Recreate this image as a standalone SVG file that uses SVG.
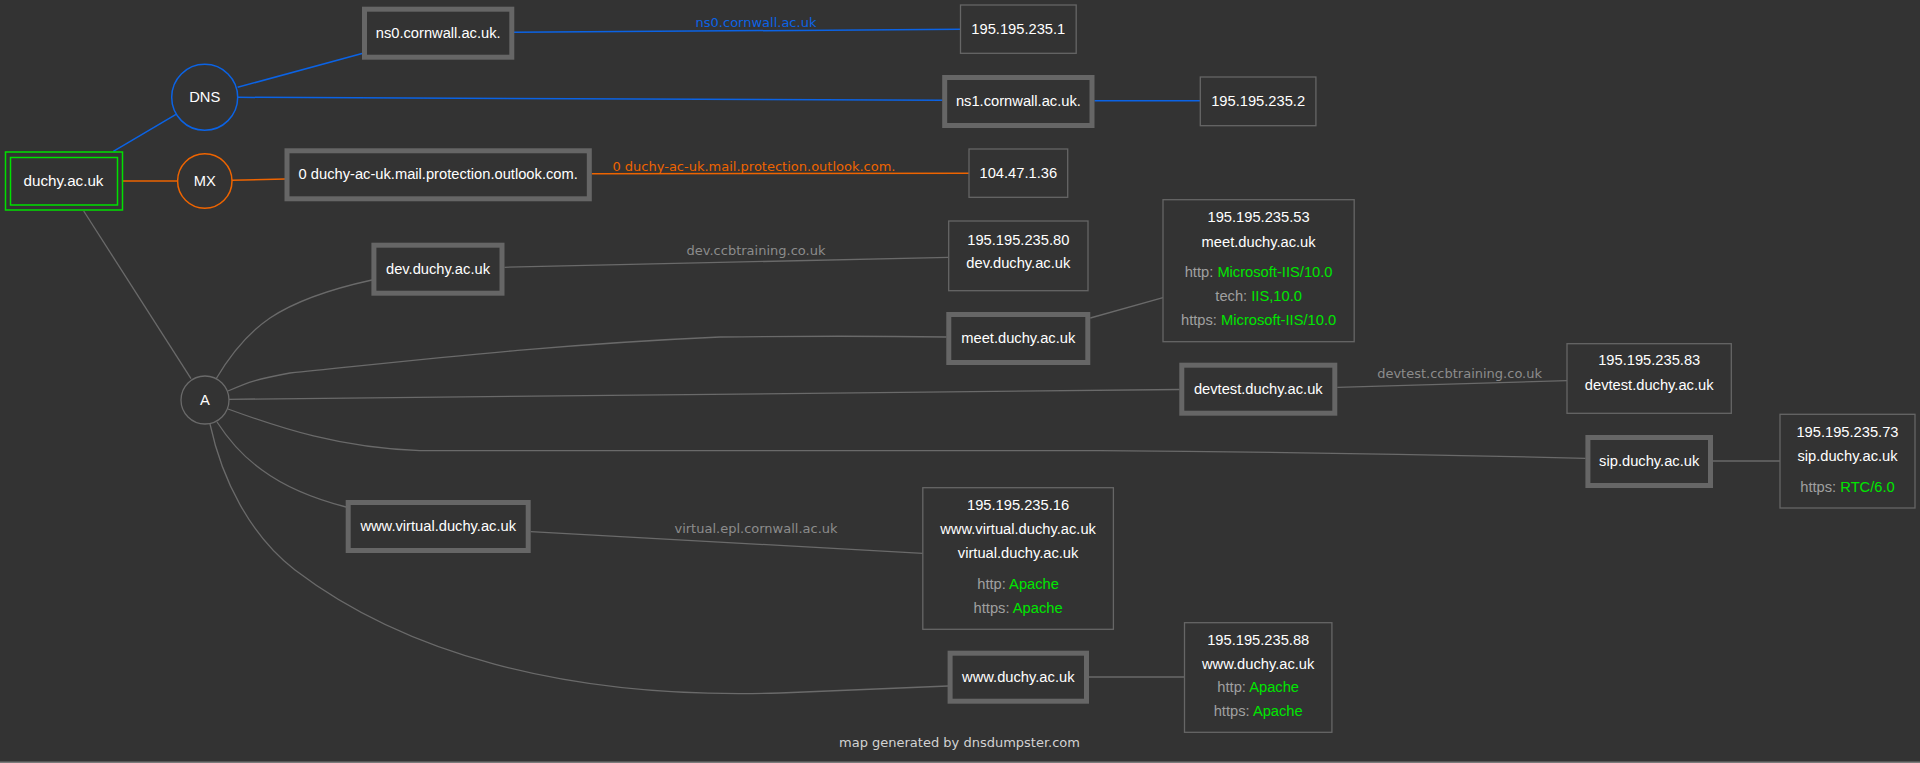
<svg xmlns="http://www.w3.org/2000/svg" width="1920" height="763" viewBox="0 0 1920 763">
<style>
.bg{fill:#333333}
.t{font-family:"Liberation Sans",Arial,sans-serif;font-size:14.7px;fill:#ffffff;text-anchor:middle}
.k{fill:#a0a0a0}
.g{fill:#00e600}
.el{font-family:"DejaVu Sans",Verdana,sans-serif;font-size:13px;text-anchor:middle}
.thick{fill:#333333;stroke:#666666;stroke-width:5}
.thin{fill:#333333;stroke:#666666;stroke-width:1.3}
.e{fill:none;stroke:#6a6a6a;stroke-width:1.3}
.eb{fill:none;stroke:#0b63e5;stroke-width:1.5}
.eo{fill:none;stroke:#ee6400;stroke-width:1.5}
</style>
<rect class="bg" x="0" y="0" width="1920" height="763"/>
<rect x="0" y="761.5" width="1920" height="1.5" fill="#7a7a7a"/>

<g id="connectors">
  <path class="eb" d="M113.3,151.3 L176,114.3"/>
  <path class="eo" d="M123,181 L177.7,181"/>
  <path class="e" d="M83.7,211 L191,378.7"/>
  <path class="eb" d="M237.6,87.3 L363,53.3"/>
  <path class="eb" d="M237.7,97.3 L942.5,100.3"/>
  <path class="eb" d="M514,32.3 L960.5,29.3"/>
  <text class="el" x="756" y="26.7" fill="#0b63e5">ns0.cornwall.ac.uk</text>
  <path class="eb" d="M1094.5,100.7 L1200.3,100.7"/>
  <path class="eo" d="M231.8,180.3 L285,179"/>
  <path class="eo" d="M591.8,173.7 L969,173.3"/>
  <text class="el" x="754" y="170.7" fill="#ee6400">0 duchy-ac-uk.mail.protection.outlook.com.</text>
  <path class="e" d="M216,379 C232,352 248,333 270,318 C300,298 340,287 372,280"/>
  <path class="e" d="M504.5,267.3 L948.7,257.3"/>
  <text class="el" x="756" y="255.3" fill="#8c8c8c">dev.ccbtraining.co.uk</text>
  <path class="e" d="M228,391 C250,381 258,379 290,373 C400,362 540,345 720,337 C800,336 880,336 946.5,337"/>
  <path class="e" d="M1090.3,318 L1163,297.7"/>
  <path class="e" d="M228.6,399.3 L1179.5,389.5"/>
  <path class="e" d="M1337.3,387.3 L1567,380.7"/>
  <text class="el" x="1459.6" y="378.3" fill="#8c8c8c">devtest.ccbtraining.co.uk</text>
  <path class="e" d="M228,409 C280,428 340,448 420,450.7 L1100,450.7 C1300,452 1450,455 1585.5,458.3"/>
  <path class="e" d="M1713,461 L1780,461"/>
  <path class="e" d="M217,422 C230,442 245,458 262,470 C285,487 315,499 346,507"/>
  <path class="e" d="M530.7,531.7 L922.8,553.3"/>
  <text class="el" x="756" y="532.7" fill="#8c8c8c">virtual.epl.cornwall.ac.uk</text>
  <path class="e" d="M210,424 C222,480 250,535 295,570 C400,650 560,700 780,693 C850,690 900,688 948,686"/>
  <path class="e" d="M1089,677 L1184.5,677"/>
</g>

<g id="node-duchy">
  <rect x="5.5" y="152" width="117" height="58" fill="none" stroke="#00e000" stroke-width="1.5"/>
  <rect x="10.5" y="157.5" width="107" height="47.5" fill="none" stroke="#00e000" stroke-width="1.5"/>
  <text class="t" x="63.5" y="185.5" style="font-size:15.2px">duchy.ac.uk</text>
</g>
<g id="node-dns">
  <circle cx="204.7" cy="97.3" r="33" fill="#333333" stroke="#0b63e5" stroke-width="1.5"/>
  <text class="t" x="204.7" y="101.5">DNS</text>
</g>
<g id="node-mx">
  <circle cx="204.8" cy="181" r="27.2" fill="#333333" stroke="#ee6400" stroke-width="1.5"/>
  <text class="t" x="204.8" y="185.5">MX</text>
</g>
<g id="node-a">
  <circle cx="205" cy="400" r="24" fill="#333333" stroke="#6a6a6a" stroke-width="1.3"/>
  <text class="t" x="205" y="404.5">A</text>
</g>

<g id="node-ns0">
  <rect class="thick" x="364.5" y="9.2" width="147.3" height="48"/>
  <text class="t" x="438.2" y="37.8">ns0.cornwall.ac.uk.</text>
</g>
<g id="node-ns1">
  <rect class="thick" x="944.7" y="77.5" width="147.3" height="48"/>
  <text class="t" x="1018.4" y="106">ns1.cornwall.ac.uk.</text>
</g>
<g id="node-mail">
  <rect class="thick" x="287" y="150.8" width="302.3" height="48"/>
  <text class="t" x="438.2" y="179.3">0 duchy-ac-uk.mail.protection.outlook.com.</text>
</g>
<g id="node-dev">
  <rect class="thick" x="373.9" y="245.2" width="128.1" height="48"/>
  <text class="t" x="438" y="273.7">dev.duchy.ac.uk</text>
</g>
<g id="node-meet">
  <rect class="thick" x="948.8" y="314.5" width="139" height="48"/>
  <text class="t" x="1018.3" y="343">meet.duchy.ac.uk</text>
</g>
<g id="node-devtest">
  <rect class="thick" x="1181.8" y="365.2" width="153" height="48"/>
  <text class="t" x="1258.3" y="393.7">devtest.duchy.ac.uk</text>
</g>
<g id="node-sip">
  <rect class="thick" x="1587.9" y="437.5" width="122.6" height="48"/>
  <text class="t" x="1649.2" y="466">sip.duchy.ac.uk</text>
</g>
<g id="node-wwwvirtual">
  <rect class="thick" x="348.2" y="502.5" width="180" height="48"/>
  <text class="t" x="438.2" y="531">www.virtual.duchy.ac.uk</text>
</g>
<g id="node-www">
  <rect class="thick" x="950.1" y="653.2" width="136.4" height="48"/>
  <text class="t" x="1018.3" y="681.7">www.duchy.ac.uk</text>
</g>

<g id="node-ip1">
  <rect class="thin" x="960.5" y="5" width="115.7" height="48.3"/>
  <text class="t" x="1018.3" y="33.7">195.195.235.1</text>
</g>
<g id="node-ip2">
  <rect class="thin" x="1200.3" y="77" width="115.6" height="48.7"/>
  <text class="t" x="1258.1" y="105.9">195.195.235.2</text>
</g>
<g id="node-ip-mx">
  <rect class="thin" x="969" y="149" width="98.7" height="48.3"/>
  <text class="t" x="1018.3" y="177.7">104.47.1.36</text>
</g>
<g id="node-ip-dev">
  <rect class="thin" x="948.7" y="221" width="139.3" height="69.7"/>
  <text class="t" x="1018.3" y="245">195.195.235.80</text>
  <text class="t" x="1018.3" y="268.3">dev.duchy.ac.uk</text>
</g>
<g id="node-ip-meet">
  <rect class="thin" x="1163" y="199.7" width="191.2" height="142"/>
  <text class="t" x="1258.6" y="222.3">195.195.235.53</text>
  <text class="t" x="1258.6" y="246.7">meet.duchy.ac.uk</text>
  <text class="t" x="1258.6" y="277.3"><tspan class="k">http: </tspan><tspan class="g">Microsoft-IIS/10.0</tspan></text>
  <text class="t" x="1258.6" y="301"><tspan class="k">tech: </tspan><tspan class="g">IIS,10.0</tspan></text>
  <text class="t" x="1258.6" y="325"><tspan class="k">https: </tspan><tspan class="g">Microsoft-IIS/10.0</tspan></text>
</g>
<g id="node-ip-devtest">
  <rect class="thin" x="1567" y="343.7" width="164.3" height="69.6"/>
  <text class="t" x="1649.2" y="365">195.195.235.83</text>
  <text class="t" x="1649.2" y="390">devtest.duchy.ac.uk</text>
</g>
<g id="node-ip-sip">
  <rect class="thin" x="1780" y="414.3" width="135" height="93.7"/>
  <text class="t" x="1847.5" y="436.7">195.195.235.73</text>
  <text class="t" x="1847.5" y="461">sip.duchy.ac.uk</text>
  <text class="t" x="1847.5" y="491.7"><tspan class="k">https: </tspan><tspan class="g">RTC/6.0</tspan></text>
</g>
<g id="node-ip-virtual">
  <rect class="thin" x="922.8" y="487.7" width="190.6" height="141.6"/>
  <text class="t" x="1018.1" y="510">195.195.235.16</text>
  <text class="t" x="1018.1" y="534">www.virtual.duchy.ac.uk</text>
  <text class="t" x="1018.1" y="558.3">virtual.duchy.ac.uk</text>
  <text class="t" x="1018.1" y="589"><tspan class="k">http: </tspan><tspan class="g">Apache</tspan></text>
  <text class="t" x="1018.1" y="612.7"><tspan class="k">https: </tspan><tspan class="g">Apache</tspan></text>
</g>
<g id="node-ip-www">
  <rect class="thin" x="1184.5" y="622.7" width="147.4" height="109.6"/>
  <text class="t" x="1258.2" y="645">195.195.235.88</text>
  <text class="t" x="1258.2" y="669.3">www.duchy.ac.uk</text>
  <text class="t" x="1258.2" y="692.3"><tspan class="k">http: </tspan><tspan class="g">Apache</tspan></text>
  <text class="t" x="1258.2" y="716"><tspan class="k">https: </tspan><tspan class="g">Apache</tspan></text>
</g>

<text x="959.5" y="747.3" style="font-family:'DejaVu Sans',Verdana,sans-serif;font-size:13px;fill:#d2d2d2;text-anchor:middle">map generated by dnsdumpster.com</text>
</svg>
